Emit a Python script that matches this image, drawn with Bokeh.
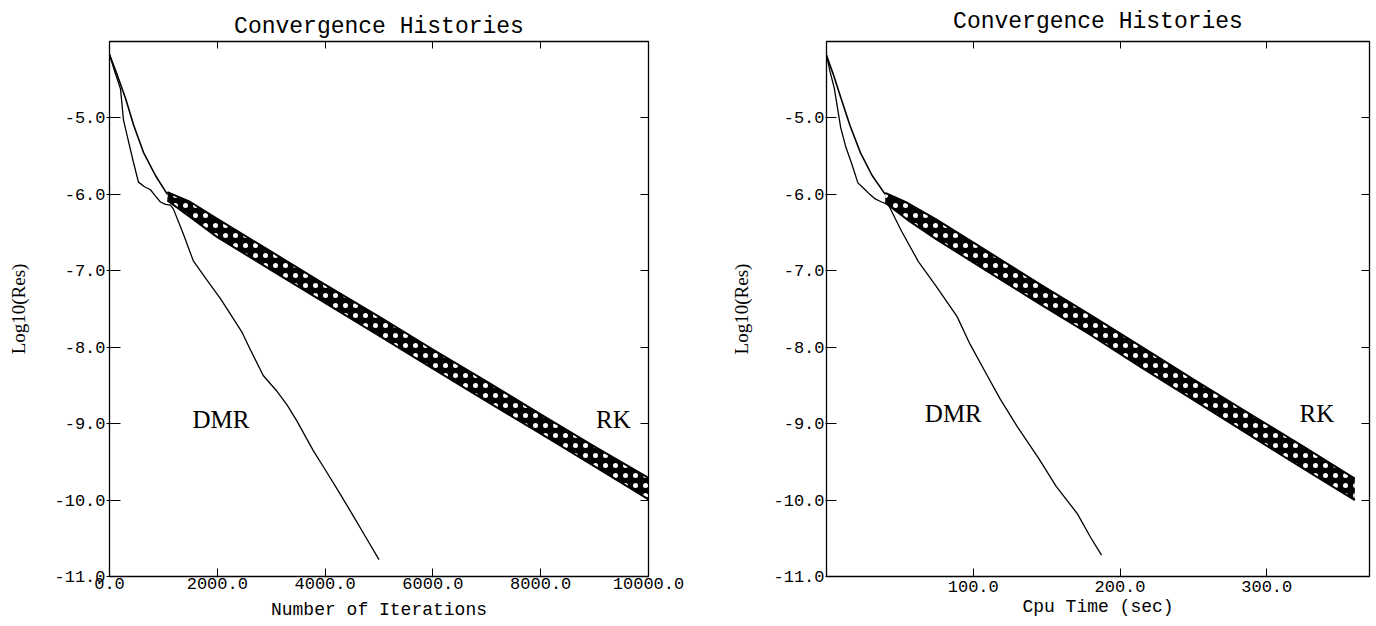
import numpy as np
from bokeh.plotting import figure
from bokeh.layouts import row
from bokeh.models import LinearAxis, FixedTicker, PrintfTickFormatter
from bokeh.embed import file_html
from bokeh.resources import INLINE
from bokeh.core.properties import value

# ---------------- data ----------------
title_text = "Convergence Histories"
y_label = "Log10(Res)"
x_label_iter = "Number of Iterations"
x_label_cpu = "Cpu Time (sec)"
y_ticks = [-11, -10, -9, -8, -7, -6, -5]
iter_ticks = [0, 2000, 4000, 6000, 8000, 10000]
cpu_ticks = [100, 200, 300]

# Left panel: residual vs iterations
dmr_iter_x = [0, 100, 204, 260, 350, 444, 537, 650, 760, 850, 945, 1040, 1130, 1185,
              1370, 1555, 1815, 2055, 2300, 2463, 2611, 2852, 3111, 3300, 3481, 3778,
              4000, 4278, 4500, 4750, 5000]
dmr_iter_y = [-4.17, -4.40, -4.62, -5.03, -5.30, -5.58, -5.84, -5.90, -5.94, -6.02, -6.10,
              -6.13, -6.14, -6.19, -6.52, -6.87, -7.13, -7.36, -7.63, -7.81, -8.03, -8.37,
              -8.58, -8.76, -8.97, -9.35, -9.60, -9.92, -10.18, -10.48, -10.78]
rk_iter_x = [0, 150, 300, 450, 630, 850, 1074]
rk_iter_y = [-4.17, -4.45, -4.75, -5.10, -5.45, -5.75, -6.00]
rk_band_iter_x = [1074, 1500, 2000, 3000, 4000, 5000, 6000, 7000, 8000, 9000, 10000]
rk_band_iter_hi = [-5.97, -6.10, -6.32, -6.75, -7.18, -7.60, -8.03, -8.45, -8.88, -9.30, -9.71]
rk_band_iter_lo = [-6.08, -6.30, -6.56, -6.99, -7.42, -7.85, -8.28, -8.71, -9.13, -9.56, -9.99]

# Right panel: residual vs cpu time
dmr_cpu_x = [0, 2.5, 5.3, 9.7, 13, 17, 21.4, 25.8, 29.5, 33.2, 37.5, 42, 50.8, 62.6, 74.3,
             89, 97.8, 109.5, 118.4, 130, 144.8, 156.5, 171, 180, 187.4]
dmr_cpu_y = [-4.18, -4.40, -4.61, -5.13, -5.37, -5.59, -5.85, -5.93, -6.00, -6.06, -6.10,
             -6.13, -6.47, -6.88, -7.19, -7.60, -7.96, -8.37, -8.68, -9.04, -9.46, -9.82,
             -10.18, -10.49, -10.72]
rk_cpu_x = [0, 5, 10, 16, 23, 31, 40]
rk_cpu_y = [-4.18, -4.45, -4.75, -5.10, -5.45, -5.75, -6.00]
rk_band_cpu_x = [40, 55, 75, 110, 145, 180, 215, 250, 290, 325, 360]
rk_band_cpu_hi = [-5.98, -6.11, -6.33, -6.75, -7.17, -7.58, -8.00, -8.42, -8.89, -9.30, -9.72]
rk_band_cpu_lo = [-6.11, -6.33, -6.59, -7.01, -7.43, -7.84, -8.27, -8.69, -9.17, -9.59, -10.00]

MONO = "Liberation Mono"
SERIF = "Liberation Serif"


def make_panel(width, height, xr, xticks, bl, br, bt, bb, ylab_standoff,
               ytick_out, ytick_in, xtick_standoff, xlab_standoff, xlabel, title_standoff):
    p = figure(width=width, height=height, x_range=xr, y_range=(-11, -4),
               output_backend="svg", toolbar_location=None,
               min_border_left=bl, min_border_right=br, min_border_top=bt,
               min_border_bottom=bb)
    p.grid.visible = False
    p.outline_line_color = "black"
    p.outline_line_width = 1.3
    p.background_fill_color = "white"
    p.border_fill_color = "white"

    p.title.text = title_text
    p.title.align = "center"
    p.title.text_font = MONO
    p.title.text_font_size = "23px"
    p.title.text_font_style = "normal"
    p.title.text_color = "black"
    p.title.standoff = title_standoff

    xa = p.xaxis[0]
    xa.ticker = FixedTicker(ticks=xticks)
    xa.formatter = PrintfTickFormatter(format="%.1f")
    xa.axis_label = xlabel
    xa.axis_label_text_font = MONO
    xa.axis_label_text_font_size = "18px"
    xa.axis_label_text_font_style = "normal"
    xa.axis_label_text_color = "black"
    xa.axis_label_standoff = xlab_standoff
    xa.major_label_text_font = MONO
    xa.major_label_text_font_size = "17px"
    xa.major_label_text_color = "black"
    xa.major_label_standoff = xtick_standoff
    xa.major_tick_in = 8
    xa.major_tick_out = 0
    xa.minor_tick_line_color = None
    xa.axis_line_color = None
    xa.major_tick_line_color = "black"

    ya = p.yaxis[0]
    ya.ticker = FixedTicker(ticks=y_ticks)
    ya.formatter = PrintfTickFormatter(format="%.1f")
    ya.axis_label = y_label
    ya.axis_label_text_font = SERIF
    ya.axis_label_text_font_size = "19px"
    ya.axis_label_text_font_style = "normal"
    ya.axis_label_text_color = "black"
    ya.axis_label_standoff = ylab_standoff
    ya.major_label_text_font = MONO
    ya.major_label_text_font_size = "17px"
    ya.major_label_text_color = "black"
    ya.major_label_standoff = 1
    ya.major_tick_in = ytick_in
    ya.major_tick_out = ytick_out
    ya.major_tick_line_color = "black"
    ya.minor_tick_line_color = None
    ya.axis_line_color = None

    top = LinearAxis(ticker=FixedTicker(ticks=xticks), major_label_text_font_size="0px",
                     major_label_standoff=0, major_tick_in=7, major_tick_out=0,
                     major_tick_line_color="black",
                     minor_tick_line_color=None, axis_line_color=None)
    right = LinearAxis(ticker=FixedTicker(ticks=y_ticks), major_label_text_font_size="0px",
                       major_label_standoff=0, major_tick_in=8, major_tick_out=0,
                       major_tick_line_color="black",
                       minor_tick_line_color=None, axis_line_color=None)
    p.add_layout(top, "above")
    p.add_layout(right, "right")
    return p


def draw(p, dx, dy, rx, ry, bx, bhi, blo, dmr_pos, rk_pos, label_y):
    p.varea(x=bx, y1=blo, y2=bhi, fill_color="black", hatch_pattern=".",
            hatch_color="white", hatch_scale=10, hatch_weight=2.5)
    p.line(bx, bhi, line_color="black", line_width=2)
    p.line(bx, blo, line_color="black", line_width=2)
    p.line(rx, ry, line_color="black", line_width=1.6)
    p.line(dx, dy, line_color="black", line_width=1.3)
    p.text(x=[dmr_pos], y=[label_y], text=["DMR"], text_font=value(SERIF),
           text_font_size="25px", text_align="left", text_baseline="middle",
           text_color="black")
    p.text(x=[rk_pos], y=[label_y], text=["RK"], text_font=value(SERIF),
           text_font_size="25px", text_align="right", text_baseline="middle",
           text_color="black")


p1 = make_panel(690, 626, (0, 10000), iter_ticks, 109, 42, 38, 50, 22, 3, 11, 1, 8,
                x_label_iter, 3)
draw(p1, dmr_iter_x, dmr_iter_y, rk_iter_x, rk_iter_y, rk_band_iter_x, rk_band_iter_hi,
     rk_band_iter_lo, 1540, 9670, -8.95)

p2 = make_panel(686, 626, (0, 370), cpu_ticks, 136, 7, 38, 50, 18, 1, 10, 4, 2,
                x_label_cpu, 13)
draw(p2, dmr_cpu_x, dmr_cpu_y, rk_cpu_x, rk_cpu_y, rk_band_cpu_x, rk_band_cpu_hi,
     rk_band_cpu_lo, 67, 346, -8.87)

layout = row(p1, p2)
open("out.html", "w").write(file_html(layout, INLINE))
